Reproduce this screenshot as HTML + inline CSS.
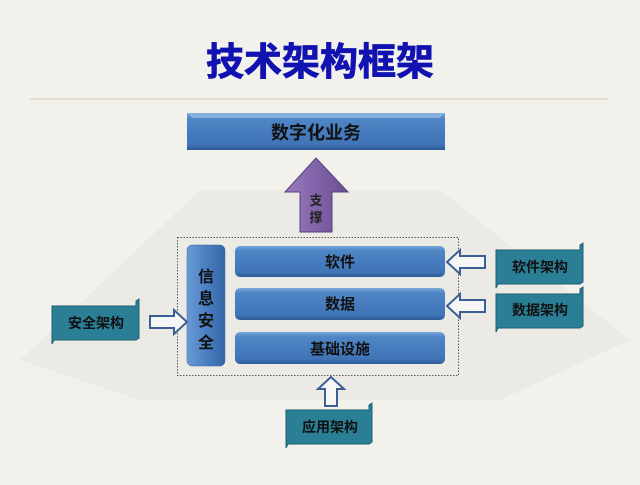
<!DOCTYPE html>
<html><head><meta charset="utf-8"><style>
html,body{margin:0;padding:0}
body{width:640px;height:480px;overflow:hidden;background:#f2f1ec;font-family:"Liberation Sans","Noto Sans CJK SC",sans-serif}
</style></head><body>
<svg width="640" height="480" viewBox="0 0 640 480" xmlns="http://www.w3.org/2000/svg" font-family="Liberation Sans, Noto Sans CJK SC, sans-serif">
<defs>
<linearGradient id="bl" x1="0" y1="0" x2="0" y2="1">
<stop offset="0" stop-color="#7aa7dc"/><stop offset="0.15" stop-color="#4f86c6"/><stop offset="0.85" stop-color="#3f74b6"/><stop offset="1" stop-color="#2c5a94"/></linearGradient>
<linearGradient id="blv" x1="0" y1="0" x2="1" y2="0">
<stop offset="0" stop-color="#6a9ad6"/><stop offset="0.5" stop-color="#4a80c2"/><stop offset="1" stop-color="#3566a6"/></linearGradient>
<linearGradient id="pu" x1="0" y1="0" x2="1" y2="0">
<stop offset="0" stop-color="#9a7cc0"/><stop offset="0.5" stop-color="#8063a8"/><stop offset="1" stop-color="#6a4e92"/></linearGradient>
</defs>
<rect width="640" height="480" fill="#f2f1ec"/>
<polygon points="20,360 200,190 440,190 630,340 500,400 140,400" fill="#e9e7e1" opacity="0.7"/>
<text x="320" y="75" text-anchor="middle" font-size="38" font-weight="bold" fill="#1212b0" stroke="#1212b0" stroke-width="0.8">技术架构框架</text>
<line x1="30" y1="99" x2="608" y2="99" stroke="#ddd8c6" stroke-width="1.5"/>
<rect x="187" y="113" width="258" height="37" fill="url(#bl)"/>
<polygon points="187,113 445,113 439,118 193,118" fill="#86b0e0"/>
<text x="316" y="139" text-anchor="middle" font-size="18" font-weight="bold" fill="#111">数字化业务</text>
<polygon points="316,158 348,192 332,192 332,232 300,232 300,192 285,192" fill="url(#pu)" stroke="#5a4080" stroke-width="1"/>
<text x="316" y="205" text-anchor="middle" font-size="13" font-weight="bold" fill="#222">支</text>
<text x="316" y="222" text-anchor="middle" font-size="13" font-weight="bold" fill="#222">撑</text>
<rect x="177.5" y="237.5" width="281" height="138" fill="none" stroke="#555" stroke-width="1" stroke-dasharray="1.5,1.5"/>
<rect x="187" y="245" width="38" height="121" rx="5" fill="url(#blv)" stroke="#3a6aa8" stroke-width="0.5"/>
<g font-size="16" font-weight="bold" fill="#111" text-anchor="middle">
<text x="206" y="282">信</text><text x="206" y="304">息</text><text x="206" y="326">安</text><text x="206" y="348">全</text>
</g>
<g>
<rect x="235" y="246" width="210" height="31" rx="5" fill="url(#bl)"/>
<rect x="235" y="288" width="210" height="32" rx="5" fill="url(#bl)"/>
<rect x="235" y="332" width="210" height="32" rx="5" fill="url(#bl)"/>
</g>
<g font-size="15" font-weight="bold" fill="#111" text-anchor="middle">
<text x="340" y="267">软件</text><text x="340" y="309">数据</text><text x="340" y="354">基础设施</text>
</g>
<g fill="#f6f6f6" stroke="#3b5e95" stroke-width="2">
<polygon points="447,262 460,250 460,256 485,256 485,268 460,268 460,274"/>
<polygon points="447,306 460,294 460,300 485,300 485,312 460,312 460,318"/>
<polygon points="187,322 174,310 174,316 150,316 150,328 174,328 174,334"/>
<polygon points="331,377 344,389 337,389 337,406 325,406 325,389 318,389"/>
</g>
<g fill="#2a7f97" stroke="#1f5f74" stroke-width="1">
<path d="M496,250 L580,250 L580,245 L583,243 L583,282 L580,284 L498,284 L496,288 Z"/>
<path d="M496,294 L580,294 L580,289 L583,287 L583,326 L580,328 L498,328 L496,332 Z"/>
<path d="M52,306 L136,306 L136,301 L139,299 L139,338 L136,340 L54,340 L52,344 Z"/>
<path d="M286,410 L369,410 L369,405 L372,403 L372,442 L369,444 L288,444 L286,448 Z"/>
</g>
<g font-size="14" font-weight="bold" fill="#111" text-anchor="middle">
<text x="540" y="272">软件架构</text><text x="540" y="315">数据架构</text>
<text x="96" y="328">安全架构</text><text x="330" y="432">应用架构</text>
</g>
</svg>
</body></html>
